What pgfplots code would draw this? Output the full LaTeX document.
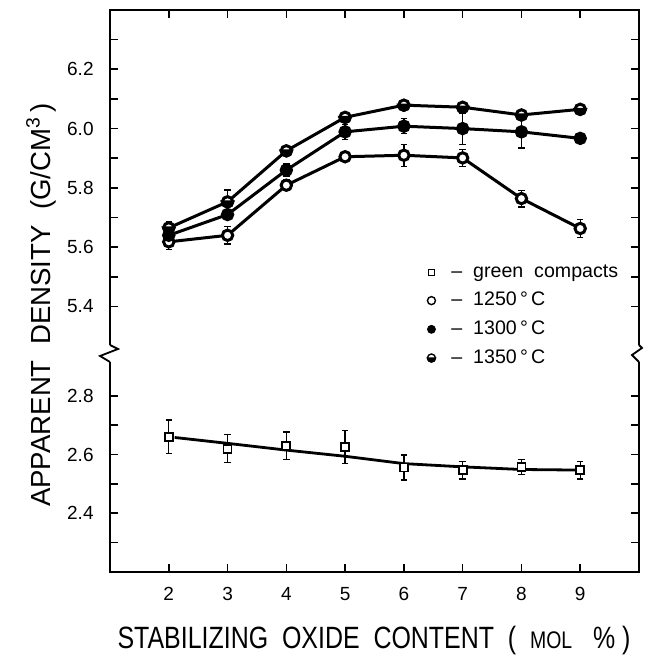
\documentclass[border=0pt]{standalone}
\usepackage{fontspec}
\setmainfont{Liberation Sans}
\newfontfamily\narrowfont[FakeStretch=0.81]{Liberation Sans}
\usepackage{pgfplots}
\pgfplotsset{compat=1.18}

% circle, lower half black (1350 C)
\pgfdeclareplotmark{halfo}{%
  \pgfpathcircle{\pgfpointorigin}{\pgfplotmarksize}%
  \pgfusepathqfillstroke
  \begin{pgfscope}
  \pgfsetfillcolor{black}%
  \pgfpathmoveto{\pgfqpoint{-\pgfplotmarksize}{0pt}}%
  \pgfpatharc{180}{360}{\pgfplotmarksize}%
  \pgfpathclose
  \pgfusepathqfillstroke
  \end{pgfscope}
}

\pgfplotsset{
  brk/.style={
    scale only axis, width=264.5pt, xmin=1, xmax=10,
    axis line style={draw=none},
    tick align=inside, major tick length=4pt, minor tick length=4pt,
    tick style={black, line width=0.8pt},
    ytick pos=both, xtick={2,...,9},
    /pgf/number format/assume math mode=true,
    tick label style={font=\fontsize{9.5}{10}\selectfont},
    yticklabel style={anchor=east, inner sep=0pt, xshift=-8pt},
    clip=false,
  },
  ebar/.style={error bars/y dir=both, error bars/y explicit,
    error bars/error bar style={line width=0.7pt},
    error bars/error mark options={rotate=90, mark size=1.6pt, line width=0.7pt}},
  dline/.style={black, line width=1.5pt, mark size=2.6pt, mark options={line width=1pt}},
}

\begin{document}
\begin{tikzpicture}
\useasboundingbox (-55pt,-42.5pt) rectangle (267.5pt,286pt);

\begin{axis}[brk, name=upper, at={(0,113.5pt)}, anchor=south west,
  height=167.5pt, ymin=5.27, ymax=6.4,
  xtick pos=right, xticklabels={},
  ytick={5.4,5.6,5.8,6.0,6.2}, yticklabels={5.4,5.6,5.8,6.0,6.2},
  minor ytick={5.5,5.7,5.9,6.1,6.3},
  legend style={draw=none, fill=none, at={(axis description cs:0.588,0.265)},
    anchor=north west, font=\fontsize{9.8}{11}\selectfont, row sep=2pt},
  legend cell align=left,
]
\draw[line width=0.9pt] (rel axis cs:0,0) -- (rel axis cs:0,1) -- (rel axis cs:1,1) -- (rel axis cs:1,0);

% 1250 C
\addplot[dline, mark=*, mark options={fill=white}, ebar, forget plot] coordinates {
  (2,5.618) +- (0,0.025)
  (3,5.640) +- (0,0.030)
  (4,5.809) +- (0,0.017)
  (5,5.905) +- (0,0.017)
  (6,5.910) +- (0,0.037)
  (7,5.901) +- (0,0.028)
  (8,5.764) +- (0,0.028)
  (9,5.663) +- (0,0.030)
};
% 1300 C
\addplot[dline, mark=*, mark options={fill=black}, ebar, forget plot] coordinates {
  (2,5.640) +- (0,0.010)
  (3,5.710) +- (0,0.012)
  (4,5.860) +- (0,0.020)
  (5,5.989) +- (0,0.025)
  (6,6.008) +- (0,0.025)
  (7,6.000) +- (0,0.053)
  (8,5.989) +- (0,0.055)
  (9,5.967) +- (0,0.008)
};
% 1350 C
\addplot[dline, mark=halfo, mark options={fill=white}, ebar, forget plot] coordinates {
  (2,5.665) +- (0,0.020)
  (3,5.753) +- (0,0.040)
  (4,5.925) +- (0,0.015)
  (5,6.038) +- (0,0.012)
  (6,6.079) +- (0,0.008)
  (7,6.072) +- (0,0.010)
  (8,6.046) +- (0,0.010)
  (9,6.065) +- (0,0.008)
};

\addlegendimage{only marks, mark=square*, mark size=1.6pt, mark options={fill=white, line width=0.7pt}}
\addlegendentry{\hspace{6pt}--\ \ green\ \ compacts}
\addlegendimage{only marks, mark=*, mark size=2pt, mark options={fill=white, line width=0.7pt}}
\addlegendentry{\hspace{6pt}--\ \ 1250\,°\,C}
\addlegendimage{only marks, mark=*, mark size=2pt, mark options={fill=black}}
\addlegendentry{\hspace{6pt}--\ \ 1300\,°\,C}
\addlegendimage{only marks, mark=halfo, mark size=2pt, mark options={fill=white, line width=0.7pt}}
\addlegendentry{\hspace{6pt}--\ \ 1350\,°\,C}
\end{axis}

\begin{axis}[brk, name=lower, at={(0,0)}, anchor=south west,
  height=105pt, ymin=2.2, ymax=2.915,
  xtick pos=left,
  xticklabel style={anchor=center, inner sep=0pt, yshift=-11pt},
  ytick={2.4,2.6,2.8}, yticklabels={2.4,2.6,2.8},
  minor ytick={2.3,2.5,2.7},
]
\draw[line width=0.9pt] (rel axis cs:0,1) -- (rel axis cs:0,0) -- (rel axis cs:1,0) -- (rel axis cs:1,1);

% green compacts: fitted line
\addplot[black, line width=1.4pt] coordinates {
  (2.1,2.658) (3,2.638) (4,2.615) (5,2.594) (6,2.569) (7,2.558) (8,2.549) (9,2.547)
};
% green compacts: measured
\addplot[only marks, mark=square*, mark size=2pt, mark options={fill=white, line width=0.9pt}, ebar] coordinates {
  (2,2.660) +- (0,0.057)
  (3,2.620) +- (0,0.048)
  (4,2.630) +- (0,0.047)
  (5,2.626) +- (0,0.056)
  (6,2.556) +- (0,0.043)
  (7,2.547) +- (0,0.030)
  (8,2.558) +- (0,0.026)
  (9,2.547) +- (0,0.030)
};
\end{axis}

% axis break marks
\draw[line width=0.9pt] (upper.south west) -- ++(4pt,-2pt) -- ++(-9pt,-3.5pt) -- (lower.north west);
\draw[line width=0.9pt] (upper.south east) -- ++(1.5pt,-1.5pt) -- ++(-5pt,-3.5pt) -- (lower.north east);

\node[rotate=90, font=\fontsize{13.8}{14}\selectfont] at (-34.5pt,133.5pt)
  {APPARENT\ \ DENSITY\ \ (G/CM\textsuperscript{3}\,)};
\node[font=\narrowfont\fontsize{15.4}{16}\selectfont] at (132pt,-34.5pt)
  {STABILIZING\ \ OXIDE\ \ CONTENT\ \ (\ \ {\fontsize{12}{12}\selectfont MOL}\ \ \ \%\ )};
\end{tikzpicture}
\end{document}
